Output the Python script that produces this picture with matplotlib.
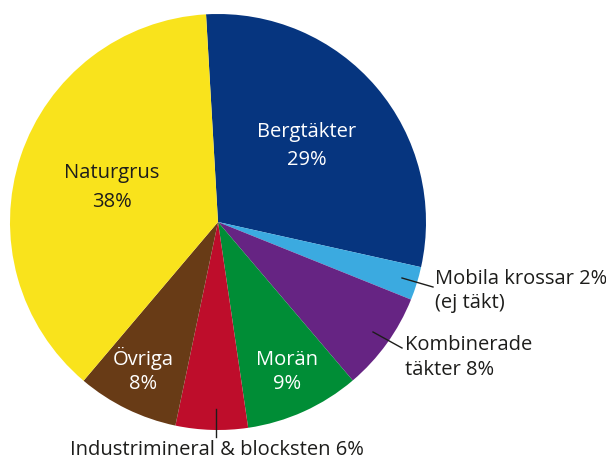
import matplotlib
matplotlib.use("Agg")
import matplotlib.pyplot as plt

categories = ["Bergtäkter", "Mobila krossar", "Kombinerade täkter", "Morän",
              "Industrimineral & blocksten", "Övriga", "Naturgrus"]
values = [29.4, 2.6, 7.7, 8.9, 5.6, 7.9, 37.9]
labels_pct = ["29%", "2%", "8%", "9%", "6%", "8%", "38%"]
colors = ["#06357F", "#3BAAE0", "#662483", "#008D36", "#BE0D2B", "#683B16", "#F9E31C"]

plt.rcParams['font.family'] = ['Open Sans', 'DejaVu Sans']

W, H = 606, 461
fig = plt.figure(figsize=(W / 100, H / 100), dpi=100)
ax = fig.add_axes([0, 0, 1, 1])
ax.set_xlim(0, W)
ax.set_ylim(0, H)
ax.set_aspect('equal')
ax.axis('off')

cx, cy, r = 218, H - 222, 208
ax.pie(values, colors=colors, startangle=93.3, counterclock=False,
       center=(cx, cy), radius=r, wedgeprops=dict(linewidth=0))
ax.set_xlim(0, W)
ax.set_ylim(0, H)

fs = 14.5
dark = "#1d1d1b"

def Y(y):
    return H - y

# inside labels
ax.text(307, Y(132), categories[0], color="white", fontsize=fs, ha="center", va="center")
ax.text(307, Y(160), labels_pct[0], color="white", fontsize=fs, ha="center", va="center")
ax.text(112, Y(173), categories[6], color=dark, fontsize=fs, ha="center", va="center")
ax.text(112, Y(202), labels_pct[6], color=dark, fontsize=fs, ha="center", va="center")
ax.text(143, Y(358), categories[5], color="white", fontsize=fs, ha="center", va="center")
ax.text(143, Y(384), labels_pct[5], color="white", fontsize=fs, ha="center", va="center")
ax.text(287, Y(360), categories[3], color="white", fontsize=fs, ha="center", va="center")
ax.text(287, Y(384), labels_pct[3], color="white", fontsize=fs, ha="center", va="center")

# outside labels with leader lines
ax.plot([402, 433], [Y(278), Y(287)], color=dark, lw=1)
ax.text(435, Y(279), f"{categories[1]} {labels_pct[1]}", color=dark, fontsize=fs, ha="left", va="center")
ax.text(435, Y(303), "(ej täkt)", color=dark, fontsize=fs, ha="left", va="center")

ax.plot([373, 402], [Y(332), Y(348)], color=dark, lw=1)
ax.text(405, Y(345), "Kombinerade", color=dark, fontsize=fs, ha="left", va="center")
ax.text(405, Y(370), f"täkter {labels_pct[2]}", color=dark, fontsize=fs, ha="left", va="center")

ax.plot([216, 216], [Y(409), Y(437)], color=dark, lw=1)
ax.text(217, Y(450), f"{categories[4]} {labels_pct[4]}", color=dark, fontsize=fs,
        ha="center", va="center")

fig.savefig("out.png", dpi=100)
